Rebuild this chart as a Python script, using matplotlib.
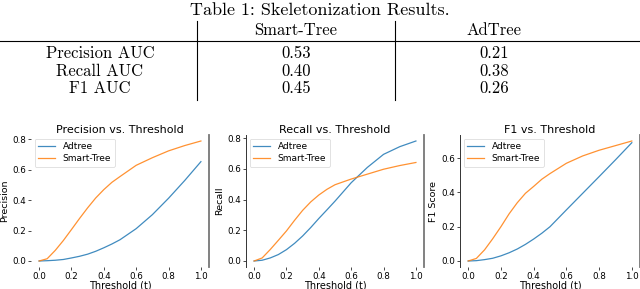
import matplotlib
matplotlib.use("Agg")
import matplotlib.pyplot as plt
from matplotlib.lines import Line2D

# ---------------- data ----------------
table_title = "Table 1: Skeletonization Results."
table_cols = ["Smart-Tree", "AdTree"]
table_rows = ["Precision AUC", "Recall AUC", "F1 AUC"]
smart_tree_auc = ["0.53", "0.40", "0.45"]
adtree_auc = ["0.21", "0.38", "0.26"]

threshold = [0.0, 0.05, 0.1, 0.15, 0.2, 0.25, 0.3, 0.35, 0.4, 0.45, 0.5, 0.6, 0.7, 0.8, 0.9, 1.0]

prec_adtree = [0.0, 0.002, 0.005, 0.010, 0.020, 0.031, 0.045, 0.064, 0.087, 0.112, 0.14, 0.213, 0.305, 0.413, 0.53, 0.654]
prec_smart = [0.0, 0.015, 0.07, 0.135, 0.207, 0.28, 0.35, 0.415, 0.47, 0.518, 0.556, 0.63, 0.68, 0.725, 0.76, 0.79]

rec_adtree = [0.0, 0.005, 0.02, 0.042, 0.074, 0.115, 0.163, 0.218, 0.277, 0.333, 0.39, 0.51, 0.61, 0.695, 0.745, 0.782]
rec_smart = [0.0, 0.02, 0.075, 0.135, 0.196, 0.265, 0.33, 0.385, 0.43, 0.467, 0.497, 0.534, 0.566, 0.598, 0.622, 0.642]

f1_adtree = [0.0, 0.002, 0.008, 0.016, 0.03, 0.048, 0.07, 0.097, 0.128, 0.162, 0.2, 0.298, 0.395, 0.492, 0.59, 0.69]
f1_smart = [0.0, 0.015, 0.065, 0.13, 0.2, 0.275, 0.34, 0.395, 0.435, 0.477, 0.51, 0.57, 0.613, 0.646, 0.673, 0.70]

panels = [
    ("Precision vs. Threshold", "Precision", prec_adtree, prec_smart),
    ("Recall vs. Threshold", "Recall", rec_adtree, rec_smart),
    ("F1 vs. Threshold", "F1 Score", f1_adtree, f1_smart),
]
series_names = ["Adtree", "Smart-Tree"]

# ---------------- figure ----------------
W, H = 640, 289
fig = plt.figure(figsize=(6.4, 2.89), dpi=100)
fig.patch.set_facecolor("white")

serif = ["cmr10", "DejaVu Serif"]

def fx(x):
    return x / W

def fy(y):
    return 1 - y / H

# table
fig.text(fx(320), fy(10), table_title, ha="center", va="center",
         fontsize=13, family=serif)
col_x = [296, 494]
row_label_x = 100
tfs = 12
fig.text(fx(col_x[0]), fy(30), table_cols[0], ha="center", va="center", fontsize=tfs, family=serif)
fig.text(fx(col_x[1]), fy(30), table_cols[1], ha="center", va="center", fontsize=tfs, family=serif)
row_y = [53, 71, 88]
for lab, a, b, y in zip(table_rows, smart_tree_auc, adtree_auc, row_y):
    fig.text(fx(row_label_x), fy(y), lab, ha="center", va="center", fontsize=tfs, family=serif)
    fig.text(fx(col_x[0]), fy(y), a, ha="center", va="center", fontsize=tfs, family=serif)
    fig.text(fx(col_x[1]), fy(y), b, ha="center", va="center", fontsize=tfs, family=serif)

fig.add_artist(Line2D([0, 1], [fy(41), fy(41)], color="black", lw=0.8, transform=fig.transFigure))
for vx in (197, 395):
    fig.add_artist(Line2D([fx(vx), fx(vx)], [fy(21), fy(100)], color="black", lw=0.8,
                          transform=fig.transFigure))

# plots
lefts = [31, 246, 460]
widths = [178, 178, 180]
top_px, bot_px = 135, 267
for i, (title, ylab, ad, sm) in enumerate(panels):
    ax = fig.add_axes([fx(lefts[i]), fy(bot_px), widths[i] / W, (bot_px - top_px) / H])
    ax.plot(threshold, ad, color="#1f77b4", lw=0.9, alpha=0.85, label=series_names[0])
    ax.plot(threshold, sm, color="#ff7f0e", lw=0.9, alpha=0.85, label=series_names[1])
    ax.set_title(title, fontsize=8, pad=1.5)
    ax.set_xlabel("Threshold (t)", fontsize=7, labelpad=-0.5)
    ax.set_ylabel(ylab, fontsize=6.8, labelpad=2)
    ax.tick_params(labelsize=6.3, length=2.5, width=0.5, pad=1)
    ax.set_xticks([0.0, 0.2, 0.4, 0.6, 0.8, 1.0])
    ax.spines["top"].set_visible(False)
    ax.spines["bottom"].set_visible(False)
    if i == 0:
        ax.spines["left"].set_visible(False)
    else:
        ax.spines["left"].set_color("#333333")
        ax.spines["left"].set_linewidth(0.7)
    ax.spines["right"].set_color("#777777")
    ax.spines["right"].set_linewidth(1.3)
    leg = ax.legend(loc="upper left", fontsize=6.5, frameon=True, handlelength=1.9,
                    borderpad=0.4, labelspacing=0.35, borderaxespad=0.4)
    leg.get_frame().set_linewidth(0.5)

fig.savefig("out.png", dpi=100)
